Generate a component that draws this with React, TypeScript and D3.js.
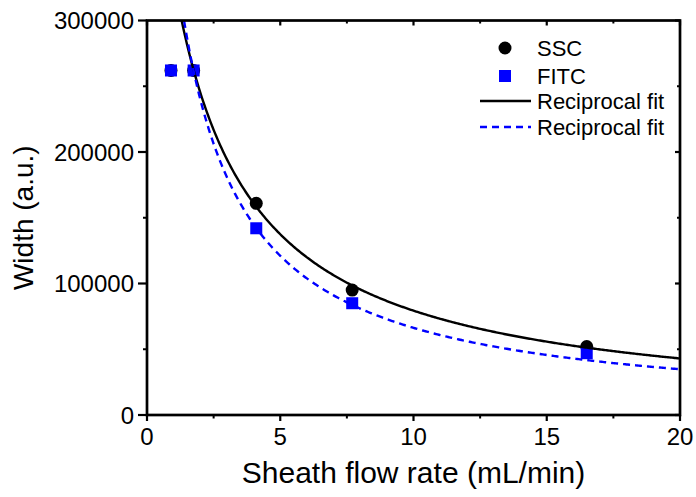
import React from "react";
import * as d3 from "d3";

const flowRate = [0.9, 1.75, 4.1, 7.7, 16.5];
const sscWidth = [262000, 262000, 161000, 95000, 52000];
const fitcWidth = [262000, 262000, 142000, 85000, 47000];
// Reciprocal fit y = 1 / (a + b x)
const sscFit = { a: 1.948e-6, b: 1.0654e-6 };
const fitcFit = { a: 1.436e-6, b: 1.365e-6 };
const xTicks = [0, 5, 10, 15, 20];
const yTicks = [0, 100000, 200000, 300000];
const xMinor = [2.5, 7.5, 12.5, 17.5];
const yMinor = [50000, 150000, 250000];
const legendLabels = ["SSC", "FITC", "Reciprocal fit", "Reciprocal fit"];

const W = 696, H = 497;
const L = 147, R = 680, T = 20.5, B = 415;
const FONT = "'Liberation Sans', Arial, sans-serif";

export default function App() {
  const x = d3.scaleLinear().domain([0, 20]).range([L, R]);
  const y = d3.scaleLinear().domain([0, 300000]).range([B, T]);
  const fitLine = (p: { a: number; b: number }) => {
    const xs = d3.range(0.5, 20.0001, 0.05);
    return d3
      .line<number>()
      .x((v) => x(v))
      .y((v) => y(1 / (p.a + p.b * v)))(xs) as string;
  };
  const sq = 12;
  return (
    <svg width={W} height={H} style={{ position: "absolute", left: 0, top: 0, background: "#fff" }} fontFamily={FONT}>
      <defs>
        <clipPath id="plot">
          <rect x={L} y={T} width={R - L} height={B - T} />
        </clipPath>
      </defs>
      <rect x={0} y={0} width={W} height={H} fill="#fff" />
      {flowRate.map((f, i) => (
        <circle key={"c" + i} cx={x(f)} cy={y(sscWidth[i])} r={6.5} fill="#000" />
      ))}
      {flowRate.map((f, i) => (
        <rect key={"s" + i} x={x(f) - sq / 2} y={y(fitcWidth[i]) - sq / 2} width={sq} height={sq} fill="#0000ff" />
      ))}
      <g clipPath="url(#plot)">
        <path d={fitLine(sscFit)} fill="none" stroke="#000" strokeWidth={2.4} />
        <path d={fitLine(fitcFit)} fill="none" stroke="#0000ff" strokeWidth={2.4} strokeDasharray="7 5" />
      </g>
      <rect x={L} y={T} width={R - L} height={B - T} fill="none" stroke="#000" strokeWidth={2.7} />
      {xTicks.map((t) => (
        <g key={"xt" + t}>
          <line x1={x(t)} x2={x(t)} y1={B} y2={B + 6} stroke="#000" strokeWidth={2.2} />
          <line x1={x(t)} x2={x(t)} y1={T} y2={T + 5} stroke="#000" strokeWidth={2.2} />
          <text x={x(t)} y={445} textAnchor="middle" fontSize={24} fill="#000">{t}</text>
        </g>
      ))}
      {xMinor.map((t) => (
        <g key={"xm" + t}>
          <line x1={x(t)} x2={x(t)} y1={B} y2={B + 3.5} stroke="#000" strokeWidth={2} />
          <line x1={x(t)} x2={x(t)} y1={T} y2={T + 3} stroke="#000" strokeWidth={2} />
        </g>
      ))}
      {yTicks.map((t) => (
        <g key={"yt" + t}>
          <line x1={L - 9} x2={L} y1={y(t)} y2={y(t)} stroke="#000" strokeWidth={2.2} />
          <line x1={R - 5} x2={R} y1={y(t)} y2={y(t)} stroke="#000" strokeWidth={2.2} />
          <text x={L - 13} y={y(t) + 8.5} textAnchor="end" fontSize={24} fill="#000">{t}</text>
        </g>
      ))}
      {yMinor.map((t) => (
        <g key={"ym" + t}>
          <line x1={L - 4} x2={L} y1={y(t)} y2={y(t)} stroke="#000" strokeWidth={2} />
          <line x1={R - 3} x2={R} y1={y(t)} y2={y(t)} stroke="#000" strokeWidth={2} />
        </g>
      ))}
      <text x={(L + R) / 2} y={483} textAnchor="middle" fontSize={30} fill="#000">Sheath flow rate (mL/min)</text>
      <text transform={`translate(33, ${(T + B) / 2}) rotate(-90)`} textAnchor="middle" fontSize={28} fill="#000">Width (a.u.)</text>
      <g fontSize={22} fill="#000">
        <circle cx={505} cy={48} r={6.5} fill="#000" />
        <text x={537} y={56}>{legendLabels[0]}</text>
        <rect x={505 - 6} y={76 - 6} width={12} height={12} fill="#0000ff" />
        <text x={537} y={84}>{legendLabels[1]}</text>
        <line x1={480} x2={531} y1={101} y2={101} stroke="#000" strokeWidth={2.4} />
        <text x={537} y={109}>{legendLabels[2]}</text>
        <line x1={480} x2={531} y1={127} y2={127} stroke="#0000ff" strokeWidth={2.4} strokeDasharray="7 5" />
        <text x={537} y={135}>{legendLabels[3]}</text>
      </g>
    </svg>
  );
}
